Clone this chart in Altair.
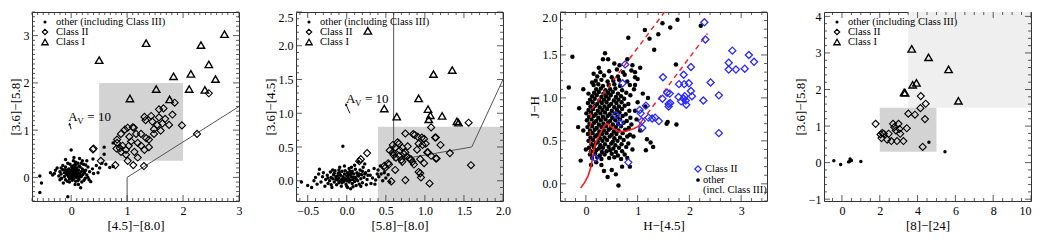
import altair as alt
import pandas as pd

FONT = "Liberation Serif"
W, H = 207, 189
FRAME = "#333333"

# ---------------- Panel 1 : [4.5]-[8.0] vs [3.6]-[5.8] ----------------
p1_classI = [(0.50, 2.48), (1.34, 2.84), (2.32, 2.80), (2.74, 3.03), (2.46, 2.39),
             (1.83, 2.14), (2.14, 2.19), (2.58, 2.08), (1.52, 1.87), (2.11, 1.87),
             (2.39, 1.85), (1.05, 1.67), (1.76, 1.65)]
p1_classII = [(2.46, 1.78), (1.85, 1.58), (1.65, 1.46), (1.57, 1.44), (1.81, 1.33), (1.43, 1.30),
              (1.31, 1.28), (1.57, 1.27), (1.68, 1.24), (1.45, 1.18), (1.33, 1.21), (1.63, 1.14),
              (1.54, 1.11), (1.75, 1.11), (1.98, 1.10), (1.10, 1.06), (1.01, 1.05), (1.48, 1.02),
              (1.12, 1.05), (0.96, 1.01), (1.16, 0.92), (1.25, 0.92), (1.04, 0.86), (0.89, 0.92),
              (1.48, 0.92), (1.34, 0.83), (1.39, 0.80), (1.19, 0.73), (0.82, 0.80), (0.82, 0.73),
              (0.92, 0.67), (1.03, 0.67), (1.25, 0.67), (1.31, 0.58), (1.60, 0.99), (1.39, 0.64),
              (0.98, 0.58), (0.89, 0.54), (0.81, 0.61), (1.13, 0.54), (0.98, 0.48), (1.01, 0.35),
              (1.19, 0.42), (1.11, 0.26), (1.30, 0.24), (0.79, 0.26), (0.53, 0.35), (0.39, 0.59),
              (0.40, 0.61), (2.25, 0.92), (0.87, 0.62), (1.07, 0.76)]
p1_other = [(-0.56, 0.03), (-0.53, -0.12), (-0.56, -0.32), (-0.06, -0.41), (0.00, 0.58),
            (-0.37, 0.10), (-0.30, 0.08), (-0.28, 0.15), (-0.25, 0.20), (-0.33, 0.05), (-0.22, 0.03),
            (-0.20, 0.12), (-0.18, 0.07), (-0.17, -0.02), (-0.15, 0.16), (-0.14, -0.12), (-0.12, 0.10),
            (-0.12, 0.02), (-0.10, 0.22), (-0.10, -0.05), (-0.08, 0.14), (-0.08, 0.06), (-0.07, -0.08),
            (-0.06, 0.30), (-0.05, 0.10), (-0.05, 0.02), (-0.04, 0.18), (-0.03, -0.03), (-0.02, 0.07),
            (-0.02, 0.12), (0.00, 0.00), (0.00, 0.05), (0.00, 0.15), (0.01, 0.22), (0.02, -0.06),
            (0.02, 0.09), (0.03, 0.03), (0.04, 0.12), (0.04, 0.35), (0.05, -0.01), (0.05, 0.06),
            (0.06, 0.18), (0.06, 0.26), (0.07, 0.01), (0.07, 0.09), (0.08, 0.13), (0.08, -0.08),
            (0.09, 0.05), (0.10, 0.20), (0.10, 0.00), (0.11, 0.10), (0.12, 0.30), (0.12, 0.04),
            (0.13, 0.15), (0.14, -0.04), (0.15, 0.08), (0.15, 0.40), (0.16, 0.22), (0.17, 0.02),
            (0.18, 0.12), (0.19, -0.10), (0.20, 0.18), (0.21, 0.06), (0.22, 0.28), (0.24, 0.10),
            (0.25, -0.02), (0.26, 0.15), (0.28, 0.35), (0.28, 0.05), (0.30, 0.22), (0.32, -0.05),
            (0.33, 0.12), (0.35, -0.09), (0.17, -0.22), (0.38, 0.18), (0.40, 0.08), (0.45, 0.25),
            (0.48, 0.10), (0.51, 0.20), (0.39, 0.39), (-0.20, -0.05), (0.59, 0.64), (0.59, 0.49),
            (0.69, 0.21), (0.75, 0.23), (0.75, 0.73), (0.62, 0.28), (0.55, 0.30), (-0.10, 0.38),
            (0.05, 0.42), (-0.02, 0.28), (0.13, -0.15), (0.08, 0.32), (-0.15, 0.25), (0.20, 0.35),
            (0.03, 0.10), (0.06, 0.04), (0.09, 0.15), (-0.01, 0.04), (0.02, 0.17), (0.11, 0.07),
            (0.04, -0.03), (0.07, 0.21), (-0.04, 0.06), (0.13, 0.02), (0.01, 0.12), (0.16, 0.05),
            (-0.06, 0.16), (0.10, 0.12), (0.08, 0.27), (0.14, 0.24), (0.18, 0.02), (-0.09, 0.09),
            (0.03, 0.24), (0.12, -0.07), (0.22, 0.14), (0.05, 0.14), (-0.11, 0.16), (0.18, 0.30),
            (0.26, 0.26), (-0.03, -0.10), (0.07, -0.15), (0.23, -0.06), (0.30, 0.00), (-0.18, 0.20)]
p1_box = [(0.5, 2.0, 0.35, 2.0)]
p1_line = [(1.0, -0.5), (1.0, 0.0), (3.0, 1.5)]
p1_arrow = [(0.00, 1.02), (-0.03, 1.13)]
p1_av = (-0.05, 1.27)

# ---------------- Panel 2 : [5.8]-[8.0] vs [3.6]-[4.5] ----------------
p2_classI = [(0.27, 2.22), (1.35, 1.64), (1.11, 1.58), (0.92, 1.22), (0.48, 1.07), (1.04, 1.06),
             (1.07, 0.97), (1.05, 0.91), (0.64, 0.95), (1.22, 0.96), (1.41, 0.88), (1.43, 0.86)]
p2_classII = [(1.56, 0.86), (1.08, 0.79), (0.75, 0.70), (0.85, 0.69), (0.87, 0.68), (0.91, 0.65),
              (1.14, 0.64), (0.99, 0.62), (0.96, 0.64), (1.20, 0.53), (0.78, 0.51), (0.97, 0.53),
              (0.90, 0.46), (1.04, 0.42), (1.32, 0.41), (0.73, 0.40), (0.82, 0.32), (0.94, 0.32),
              (1.14, 0.33), (0.99, 0.26), (0.86, 0.24), (1.59, 0.23), (0.62, 0.16), (0.94, 0.11),
              (0.95, 0.05), (0.75, 0.01), (1.06, -0.04), (0.57, -0.01), (0.26, 0.41), (0.18, 0.32),
              (0.16, 0.29), (0.48, 0.22), (0.53, 0.26), (0.54, 0.24), (0.49, 0.19), (0.67, 0.55),
              (0.65, 0.57), (0.59, 0.53), (0.62, 0.49), (0.71, 0.49), (0.59, 0.42), (0.67, 0.37),
              (0.75, 0.42), (0.80, 0.33), (0.84, 0.28), (0.71, 0.28), (1.01, 0.55), (0.92, 0.55),
              (1.03, 0.42), (1.13, 0.64), (1.08, 0.37), (1.15, 0.33), (0.92, 0.13), (0.55, 0.45),
              (0.63, 0.34), (0.70, 0.31), (0.77, 0.36), (0.68, 0.45), (0.60, 0.38)]
p2_other = [(-0.58, -0.02), (-0.50, -0.07), (-0.45, -0.10), (-0.42, 0.00), (-0.40, 0.05), (-0.38, -0.05),
            (-0.36, 0.10), (-0.35, 0.17), (-0.33, -0.02), (-0.31, 0.06), (-0.30, 0.12), (-0.28, -0.08),
            (-0.27, 0.02), (-0.25, 0.08), (-0.24, -0.04), (-0.22, 0.00), (-0.21, 0.13), (-0.20, 0.05),
            (-0.19, -0.10), (-0.18, 0.03), (-0.17, 0.09), (-0.16, -0.02), (-0.15, 0.15), (-0.14, 0.06),
            (-0.13, -0.06), (-0.12, 0.01), (-0.11, 0.11), (-0.10, 0.04), (-0.10, -0.03), (-0.09, 0.20),
            (-0.08, 0.08), (-0.07, -0.08), (-0.06, 0.02), (-0.06, 0.14), (-0.05, 0.51), (-0.05, 0.06),
            (-0.04, -0.01), (-0.03, 0.10), (-0.03, 0.22), (-0.02, 0.03), (-0.01, -0.05), (0.00, 0.07),
            (0.00, 0.00), (0.01, 0.12), (0.01, -0.10), (0.02, 0.04), (0.03, 0.18), (0.03, -0.02),
            (0.04, 0.09), (0.05, 0.01), (0.05, -0.12), (0.06, 0.06), (0.07, 0.14), (0.07, -0.04),
            (0.08, 0.02), (0.09, 0.10), (0.10, -0.01), (0.10, 0.23), (0.11, 0.05), (0.12, -0.07),
            (0.13, 0.12), (0.14, 0.00), (0.15, 0.07), (0.16, -0.05), (0.17, 0.16), (0.18, 0.03),
            (0.19, 0.09), (0.20, -0.03), (0.21, 0.20), (0.22, 0.05), (0.24, 0.12), (0.25, -0.06),
            (0.26, 0.02), (0.28, 0.15), (0.30, 0.08), (0.31, -0.04), (0.33, 0.04), (0.35, 0.18),
            (0.37, 0.01), (0.39, 0.10), (0.41, 0.06), (0.43, 0.22), (0.46, 0.00), (0.48, 0.12),
            (0.50, 0.04), (0.53, 0.09), (0.55, -0.02), (-0.02, 0.15), (-0.08, 0.00), (0.02, 0.08),
            (-0.04, 0.04), (0.06, 0.11), (-0.12, 0.07), (0.12, 0.03), (-0.16, 0.11), (0.08, -0.09),
            (0.16, 0.10), (-0.20, -0.06), (0.20, 0.14), (-0.10, 0.16), (0.00, -0.08), (0.04, 0.14),
            (-0.14, 0.02), (0.09, 0.05), (-0.01, 0.02), (0.14, 0.08), (0.23, 0.10), (-0.24, 0.04),
            (0.27, 0.08), (-0.06, -0.03), (0.11, 0.17), (0.03, 0.00), (-0.09, 0.12), (0.18, -0.08),
            (0.06, 0.20), (-0.18, 0.16), (0.15, 0.28), (0.23, 0.25), (0.40, 0.16), (0.44, 0.10),
            (0.36, -0.05)]
p2_box = [(0.4, 2.0, -0.3, 0.8)]
p2_line = [(0.6, 2.5), (0.6, 0.3), (1.6, 0.5), (2.0, 1.5)]
p2_arrow = [(0.04, 1.00), (-0.01, 1.13)]
p2_av = (-0.01, 1.21)

# ---------------- Panel 3 : H-[4.5] vs J-H ----------------
p3_classII = [(2.29, 1.88), (2.31, 1.68), (2.83, 1.55), (3.15, 1.50), (3.25, 1.42), (2.76, 1.41),
              (2.76, 1.33), (2.90, 1.33), (3.07, 1.34), (2.03, 1.36), (1.89, 1.27), (1.49, 1.24),
              (0.76, 1.39), (0.71, 1.17), (2.41, 1.18), (1.90, 1.16), (1.99, 1.17), (1.80, 1.16),
              (2.03, 1.08), (1.57, 1.06), (1.62, 1.05), (2.05, 1.02), (2.27, 0.97), (2.57, 1.03),
              (1.48, 0.99), (1.79, 1.01), (1.91, 1.02), (1.89, 0.99), (1.93, 0.97), (1.84, 0.96),
              (1.63, 0.94), (1.60, 0.93), (1.60, 0.90), (1.94, 0.92), (1.16, 0.91), (1.04, 0.86),
              (1.06, 0.82), (0.58, 0.80), (1.21, 0.77), (1.28, 0.76), (1.34, 0.77), (1.41, 0.73),
              (1.08, 0.73), (0.66, 0.71), (1.09, 0.65), (2.57, 0.59), (0.18, 0.30), (0.82, 0.25)]
p3_other = [
    (0.12, 0.30), (0.22, 0.31), (0.30, 0.29), (0.45, 0.30), (0.55, 0.31), (0.68, 0.29),
    (0.08, 0.34), (0.18, 0.35), (0.27, 0.33), (0.36, 0.34), (0.50, 0.35), (0.62, 0.33), (0.75, 0.34),
    (0.10, 0.38), (0.20, 0.39), (0.31, 0.37), (0.40, 0.38), (0.47, 0.39), (0.58, 0.37), (0.70, 0.38),
    (0.06, 0.42), (0.15, 0.43), (0.25, 0.41), (0.33, 0.42), (0.44, 0.43), (0.53, 0.41), (0.64, 0.42), (0.78, 0.43),
    (0.11, 0.46), (0.19, 0.47), (0.28, 0.45), (0.37, 0.46), (0.49, 0.47), (0.57, 0.45), (0.69, 0.46), (0.82, 0.47),
    (0.05, 0.50), (0.14, 0.51), (0.23, 0.49), (0.32, 0.50), (0.41, 0.51), (0.52, 0.49), (0.61, 0.50), (0.73, 0.51),
    (0.09, 0.54), (0.18, 0.55), (0.27, 0.53), (0.36, 0.54), (0.46, 0.55), (0.55, 0.53), (0.66, 0.54), (0.80, 0.55),
    (0.04, 0.58), (0.13, 0.59), (0.22, 0.57), (0.31, 0.58), (0.40, 0.59), (0.50, 0.57), (0.59, 0.58), (0.71, 0.59), (0.85, 0.57),
    (0.08, 0.62), (0.17, 0.63), (0.26, 0.61), (0.35, 0.62), (0.44, 0.63), (0.54, 0.61), (0.63, 0.62), (0.76, 0.63),
    (0.03, 0.66), (0.12, 0.67), (0.21, 0.65), (0.30, 0.66), (0.39, 0.67), (0.48, 0.65), (0.58, 0.66), (0.68, 0.67), (0.83, 0.65),
    (0.07, 0.70), (0.16, 0.71), (0.25, 0.69), (0.34, 0.70), (0.43, 0.71), (0.52, 0.69), (0.62, 0.70), (0.73, 0.71), (0.88, 0.69),
    (0.02, 0.74), (0.11, 0.75), (0.20, 0.73), (0.29, 0.74), (0.38, 0.75), (0.47, 0.73), (0.57, 0.74), (0.66, 0.75), (0.79, 0.73),
    (0.06, 0.78), (0.15, 0.79), (0.24, 0.77), (0.33, 0.78), (0.42, 0.79), (0.51, 0.77), (0.61, 0.78), (0.71, 0.79), (0.86, 0.77),
    (0.01, 0.82), (0.10, 0.83), (0.19, 0.81), (0.28, 0.82), (0.37, 0.83), (0.46, 0.81), (0.56, 0.82), (0.65, 0.83), (0.77, 0.81),
    (0.05, 0.86), (0.14, 0.87), (0.23, 0.85), (0.32, 0.86), (0.41, 0.87), (0.50, 0.85), (0.60, 0.86), (0.70, 0.87), (0.84, 0.85),
    (0.09, 0.90), (0.18, 0.91), (0.27, 0.89), (0.36, 0.90), (0.45, 0.91), (0.55, 0.89), (0.64, 0.90), (0.75, 0.91),
    (0.04, 0.94), (0.13, 0.95), (0.22, 0.93), (0.31, 0.94), (0.40, 0.95), (0.49, 0.93), (0.59, 0.94), (0.69, 0.95), (0.82, 0.93),
    (0.08, 0.98), (0.17, 0.99), (0.26, 0.97), (0.35, 0.98), (0.44, 0.99), (0.54, 0.97), (0.63, 0.98), (0.74, 0.99),
    (0.12, 1.02), (0.21, 1.03), (0.30, 1.01), (0.39, 1.02), (0.48, 1.03), (0.58, 1.01), (0.68, 1.02), (0.86, 1.03),
    (0.16, 1.06), (0.25, 1.07), (0.34, 1.05), (0.43, 1.06), (0.52, 1.07), (0.62, 1.05), (0.78, 1.06),
    (0.20, 1.10), (0.29, 1.11), (0.38, 1.09), (0.47, 1.10), (0.57, 1.11), (0.70, 1.09), (0.93, 1.10),
    (0.15, 1.15), (0.24, 1.16), (0.33, 1.14), (0.44, 1.15), (0.55, 1.16), (0.66, 1.14), (0.85, 1.15),
    (0.19, 1.20), (0.30, 1.21), (0.42, 1.19), (0.53, 1.20), (0.64, 1.21), (0.80, 1.19),
    (0.22, 1.25), (0.35, 1.26), (0.50, 1.24), (0.62, 1.25), (0.75, 1.27), (0.95, 1.24),
    (0.28, 1.30), (0.45, 1.31), (0.60, 1.33), (0.72, 1.30), (0.88, 1.32),
    (-0.26, 1.48), (-0.33, 1.12), (-0.05, 1.10), (0.12, 1.18), (0.37, 1.52), (0.43, 1.45), (0.33, 1.45),
    (0.82, 1.70), (1.14, 1.79), (1.23, 1.69), (1.32, 1.56), (-0.13, 0.88), (1.48, 1.87), (1.77, 1.91),
    (1.63, 1.82), (2.22, 1.84), (1.40, 1.74), (1.74, 1.39), (1.75, 0.69), (1.56, 0.70), (1.58, 0.72),
    (0.63, -0.02), (0.42, 0.08), (0.58, 0.11), (0.50, 0.16), (-0.10, 0.27), (1.18, 0.52), (1.16, 0.39),
    (0.95, 1.30), (1.00, 1.22), (1.05, 1.35), (1.10, 1.05), (1.00, 0.95), (0.95, 0.85), (0.98, 0.75),
    (1.05, 0.62), (0.92, 0.55), (0.90, 0.40), (0.80, 0.30), (0.85, 0.20), (0.30, 0.22), (0.20, 0.25),
    (0.10, 0.22), (0.00, 0.40), (-0.05, 0.62), (-0.15, 0.66), (0.70, 0.20), (0.35, 0.15), (1.25, 0.48),
    (1.30, 0.43), (0.55, 1.40), (0.65, 1.38), (0.80, 1.45), (0.90, 1.38), (0.25, 1.35), (0.15, 1.28),
    (0.05, 1.05), (1.20, 1.00), (1.15, 0.90), (0.95, 1.15)]
p3_curve = [(-0.10, -0.05), (-0.02, 0.02), (0.04, 0.09), (0.09, 0.18), (0.12, 0.27), (0.15, 0.39),
            (0.19, 0.48), (0.28, 0.59), (0.35, 0.67), (0.39, 0.70), (0.44, 0.69), (0.50, 0.66),
            (0.63, 0.61), (0.76, 0.61), (0.92, 0.64), (1.02, 0.67), (1.08, 0.73)]
p3_dash_upper = [(0.08, 0.35), (0.09, 0.85), (1.52, 2.00)]
p3_dash_lower = [(1.08, 0.73), (2.35, 1.75)]

# ---------------- Panel 4 : [8]-[24] vs [3.6]-[5.8] ----------------
p4_classI = [(3.69, 3.11), (4.58, 2.88), (5.64, 2.55), (3.74, 2.13), (3.94, 2.18), (3.29, 1.92),
             (3.34, 1.91), (6.16, 1.69)]
p4_classII = [(4.17, 1.82), (4.43, 1.61), (4.15, 1.49), (3.51, 1.34), (3.86, 1.31), (4.39, 1.19),
              (1.78, 1.06), (2.70, 1.06), (2.99, 1.06), (2.77, 0.97), (3.43, 0.94), (3.04, 0.92),
              (2.85, 0.88), (3.08, 0.79), (2.47, 0.79), (2.13, 0.81), (2.21, 0.79), (2.09, 0.67),
              (2.39, 0.63), (2.61, 0.59), (2.91, 0.59), (3.25, 0.59), (4.27, 0.43), (2.04, 0.77)]
p4_other = [(-0.43, 0.05), (-0.07, -0.05), (0.35, 0.02), (0.43, 0.10), (0.50, 0.06), (0.40, 0.03),
            (1.00, 0.03), (4.60, 0.56), (5.45, 0.30)]
p4_box_dark = [(2.0, 5.0, 0.3, 1.5)]
p4_box_light = [(3.5, 10.0, 1.5, 4.12)]


def pts(points):
    return pd.DataFrame(points, columns=["x", "y"])


def line_df(points):
    return pd.DataFrame([(x, y, i) for i, (x, y) in enumerate(points)], columns=["x", "y", "o"])


def box_df(boxes):
    return pd.DataFrame(boxes, columns=["x", "x2", "y", "y2"])


def steps(start, stop, step):
    n = int(round((stop - start) / step))
    return [round(start + i * step, 3) for i in range(n + 1)]


def make_panel(xdom, ydom, xtitle, ytitle, xlab, ylab, xfmt, yfmt, xmaj, xminor, ymaj, yminor, build,
               xflush=False):
    xs = alt.Scale(domain=xdom, nice=False, zero=False)
    ys = alt.Scale(domain=ydom, nice=False, zero=False)
    common = dict(ticks=False, domain=False, grid=False, labelFont=FONT, labelFontSize=12,
                  labelColor="black", titleFont=FONT, titleFontSize=13, titleFontWeight="normal",
                  titleColor="black")
    xax = alt.Axis(title=xtitle, values=xlab, format=xfmt, labelPadding=4, titlePadding=3,
                   labelFlush=xflush, **common)
    yax = alt.Axis(title=ytitle, values=ylab, format=yfmt, labelPadding=3, titlePadding=1,
                   labelFlush=True, **common)
    X = alt.X("x:Q", scale=xs, axis=xax)
    Y = alt.Y("y:Q", scale=ys, axis=yax)
    layers = build(X, Y)
    xminor = [v for v in xminor if xdom[0] <= v <= xdom[1] and v not in xmaj]
    yminor = [v for v in yminor if ydom[0] <= v <= ydom[1] and v not in ymaj]
    xmaj = [v for v in xmaj if xdom[0] <= v <= xdom[1]]
    ymaj = [v for v in ymaj if ydom[0] <= v <= ydom[1]]
    for vals, L in ((xmaj, 6), (xminor, 3)):
        b = alt.Chart(pd.DataFrame({"x": vals})).mark_rule(color=FRAME, strokeWidth=0.8)
        layers.append(b.encode(x=X, y=alt.value(H), y2=alt.value(H - L)))
        layers.append(b.encode(x=X, y=alt.value(0), y2=alt.value(L)))
    for vals, L in ((ymaj, 6), (yminor, 3)):
        b = alt.Chart(pd.DataFrame({"y": vals})).mark_rule(color=FRAME, strokeWidth=0.8)
        layers.append(b.encode(y=Y, x=alt.value(0), x2=alt.value(L)))
        layers.append(b.encode(y=Y, x=alt.value(W), x2=alt.value(W - L)))
    return alt.layer(*layers).properties(width=W, height=H)


def scatter_layers(X, Y, other, c2, c1, dot_size=12):
    return [
        alt.Chart(pts(other)).mark_circle(size=dot_size, color="black", opacity=1).encode(x=X, y=Y),
        alt.Chart(pts(c2)).mark_point(shape="diamond", filled=False, size=50, color="black",
                                      strokeWidth=1.1, opacity=1).encode(x=X, y=Y),
        alt.Chart(pts(c1)).mark_point(shape="triangle-up", filled=False, size=55, color="black",
                                      strokeWidth=1.4, opacity=1).encode(x=X, y=Y),
    ]


def legend_layers():
    out = []
    rows = [("circle", "other (including Class III)"), ("diamond", "Class II"), ("triangle-up", "Class I")]
    for i, (shape, label) in enumerate(rows):
        yv = 10 + 10 * i
        d = pd.DataFrame({"t": [label]})
        if shape == "circle":
            m = alt.Chart(d).mark_circle(size=10, color="black", opacity=1)
        elif shape == "diamond":
            m = alt.Chart(d).mark_point(shape="diamond", filled=False, size=30, color="black",
                                        strokeWidth=1.1, opacity=1)
        else:
            m = alt.Chart(d).mark_point(shape="triangle-up", filled=False, size=40, color="black",
                                        strokeWidth=1.3, opacity=1)
        out.append(m.encode(x=alt.value(13), y=alt.value(yv)))
        out.append(alt.Chart(d).mark_text(align="left", baseline="middle", font=FONT, fontSize=10.5,
                                          color="black").encode(x=alt.value(24), y=alt.value(yv),
                                                                text="t:N"))
    return out


def av_layers(X, Y, arrow, pos, angle):
    d = pd.DataFrame([pos], columns=["x", "y"])
    head = pd.DataFrame([arrow[1]], columns=["x", "y"])
    return [
        alt.Chart(line_df(arrow)).mark_line(color="black", strokeWidth=0.9).encode(x=X, y=Y, order="o:Q"),
        alt.Chart(head).mark_point(shape="triangle-up", filled=True, size=8, angle=angle,
                                   color="black", opacity=1).encode(x=X, y=Y),
        alt.Chart(d).mark_text(align="left", baseline="middle", font=FONT, fontSize=13,
                               color="black").encode(x=X, y=Y, text=alt.value("A")),
        alt.Chart(d).mark_text(align="left", baseline="middle", font=FONT, fontSize=9, dx=9, dy=4,
                               color="black").encode(x=X, y=Y, text=alt.value("V")),
        alt.Chart(d).mark_text(align="left", baseline="middle", font=FONT, fontSize=13, dx=19,
                               color="black").encode(x=X, y=Y, text=alt.value("= 10")),
    ]


def build1(X, Y):
    L = [alt.Chart(box_df(p1_box)).mark_rect(color="#d3d3d3").encode(x=X, x2="x2:Q", y=Y, y2="y2:Q"),
         alt.Chart(line_df(p1_line)).mark_line(color="#555555", strokeWidth=1).encode(x=X, y=Y, order="o:Q")]
    L += scatter_layers(X, Y, p1_other, p1_classII, p1_classI)
    L += av_layers(X, Y, p1_arrow, p1_av, 345)
    L += legend_layers()
    return L


def build2(X, Y):
    L = [alt.Chart(box_df(p2_box)).mark_rect(color="#d3d3d3").encode(x=X, x2="x2:Q", y=Y, y2="y2:Q"),
         alt.Chart(line_df(p2_line)).mark_line(color="#555555", strokeWidth=1).encode(x=X, y=Y, order="o:Q")]
    L += scatter_layers(X, Y, p2_other, p2_classII, p2_classI)
    L += av_layers(X, Y, p2_arrow, p2_av, 338)
    L += legend_layers()
    return L


def build3(X, Y):
    L = [alt.Chart(pts(p3_other)).mark_circle(size=20, color="black", opacity=1).encode(x=X, y=Y),
         alt.Chart(line_df(p3_curve)).mark_line(color="#ff1a1a", strokeWidth=1.6).encode(x=X, y=Y, order="o:Q"),
         alt.Chart(line_df(p3_dash_upper)).mark_line(color="#ff1a1a", strokeWidth=1.4, strokeDash=[5, 4]).encode(x=X, y=Y, order="o:Q"),
         alt.Chart(line_df(p3_dash_lower)).mark_line(color="#ff1a1a", strokeWidth=1.4, strokeDash=[5, 4]).encode(x=X, y=Y, order="o:Q"),
         alt.Chart(pts(p3_classII)).mark_point(shape="diamond", filled=False, size=50, color="#2a2aff",
                                               strokeWidth=1.3, opacity=1).encode(x=X, y=Y)]
    d1 = pd.DataFrame({"t": ["Class II"]})
    d2 = pd.DataFrame({"t": ["other"]})
    d3 = pd.DataFrame({"t": ["(incl. Class III)"]})
    tx = dict(align="left", baseline="middle", font=FONT, fontSize=10.5, color="black")
    L += [alt.Chart(d1).mark_point(shape="diamond", filled=False, size=40, color="#2a2aff",
                                   strokeWidth=1.2, opacity=1).encode(x=alt.value(138), y=alt.value(157)),
          alt.Chart(d1).mark_text(**tx).encode(x=alt.value(145), y=alt.value(157), text="t:N"),
          alt.Chart(d2).mark_circle(size=14, color="black", opacity=1).encode(x=alt.value(138), y=alt.value(168)),
          alt.Chart(d2).mark_text(**tx).encode(x=alt.value(143), y=alt.value(168), text="t:N"),
          alt.Chart(d3).mark_text(**tx).encode(x=alt.value(143), y=alt.value(178), text="t:N")]
    return L


def build4(X, Y):
    L = [alt.Chart(box_df(p4_box_light)).mark_rect(color="#efefef").encode(x=X, x2="x2:Q", y=Y, y2="y2:Q"),
         alt.Chart(box_df(p4_box_dark)).mark_rect(color="#d3d3d3").encode(x=X, x2="x2:Q", y=Y, y2="y2:Q")]
    L += scatter_layers(X, Y, p4_other, p4_classII, p4_classI)
    L += legend_layers()
    return L


panel1 = make_panel([-0.7, 3.0], [-0.5, 3.5], "[4.5]−[8.0]", "[3.6]−[5.8]",
                    [0, 1, 2, 3], [0, 1, 2, 3], "d", "d",
                    steps(0, 3, 1), steps(-0.7, 3.0, 0.1), steps(0, 3, 1), steps(-0.5, 3.5, 0.1), build1)
panel2 = make_panel([-0.65, 2.0], [-0.3, 2.5], "[5.8]−[8.0]", "[3.6]−[4.5]",
                    steps(-0.5, 2.0, 0.5), steps(0, 2.5, 0.5), ".1f", ".1f",
                    steps(-0.5, 2.0, 0.5), steps(-0.6, 2.0, 0.1), steps(0, 2.5, 0.5), steps(-0.3, 2.5, 0.1), build2)
panel3 = make_panel([-0.5, 3.5], [-0.2, 2.0], "H−[4.5]", "J−H",
                    [0, 1, 2, 3], steps(0, 2.0, 0.5), "d", ".1f",
                    steps(0, 3, 1), steps(-0.4, 3.4, 0.2), steps(0, 2.0, 0.5), steps(-0.2, 2.0, 0.1), build3)
panel4 = make_panel([-0.95, 10.0], [-1.05, 4.12], "[8]−[24]", "[3.6]−[5.8]",
                    steps(0, 10, 2), steps(-1, 4, 1), "d", "d",
                    steps(0, 10, 2), steps(-0.5, 10, 0.5), steps(-1, 4, 1), steps(-1.0, 4.0, 0.2), build4,
                    xflush=True)

chart = (alt.hconcat(panel1, panel2, panel3, panel4, spacing=57, bounds="flush")
         .properties(padding={"left": 0, "top": 0, "right": 0, "bottom": 0})
         .configure_view(stroke=FRAME, strokeWidth=1))

chart.save("out.html", embed_options={"renderer": "svg", "actions": False})
